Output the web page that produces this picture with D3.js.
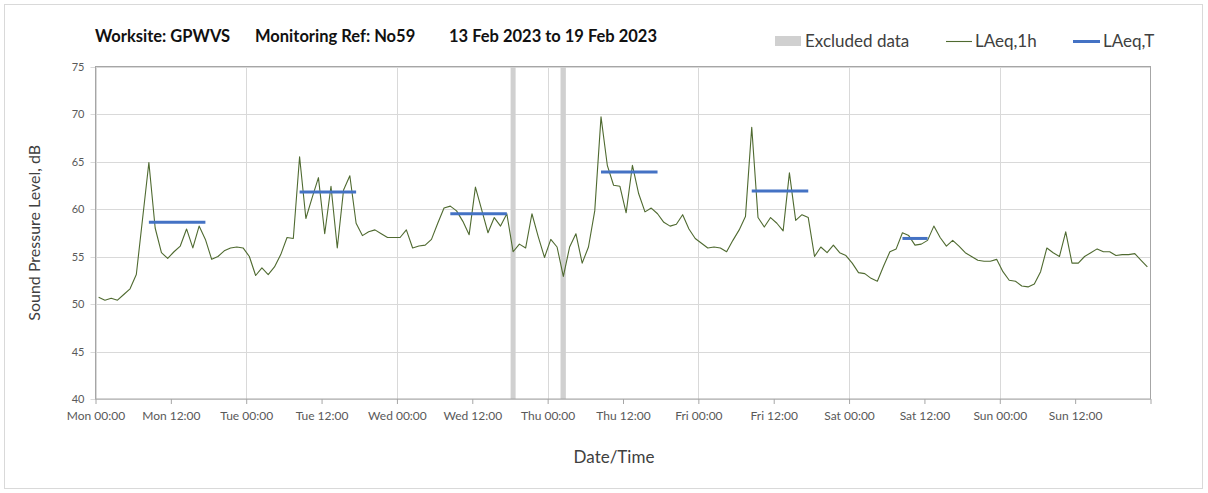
<!DOCTYPE html>
<html>
<head>
<meta charset="utf-8">
<script src="https://cdn.jsdelivr.net/npm/d3@7"></script>
<style>
  body { margin: 0; background: #fff; }
  text { font-family: Lato, "Open Sans", sans-serif; }
</style>
</head>
<body>
<div id="chart"></div>
<script>
// hourly LAeq,1h values, one array per day (point at the middle of each hour)
const monLevels = [50.7, 50.4, 50.6, 50.4, 51.0, 51.6, 53.1, 59.0, 64.9, 58.0, 55.4, 54.8, 55.5, 56.1, 57.9, 55.9, 58.2, 56.8, 54.7, 55.0, 55.6, 55.9, 56.0, 55.9];
const tueLevels = [55.0, 53.0, 53.8, 53.1, 53.9, 55.2, 57.0, 56.9, 65.5, 59.0, 61.2, 63.3, 57.4, 62.4, 55.9, 62.0, 63.5, 58.5, 57.2, 57.6, 57.8, 57.4, 57.0, 57.0];
const wedLevels = [57.0, 57.8, 55.9, 56.1, 56.2, 56.8, 58.5, 60.1, 60.3, 59.8, 58.7, 57.3, 62.3, 59.9, 57.5, 59.1, 58.2, 59.5, 55.5, 56.3, 55.9, 59.5, 57.1, 54.9];
const thuLevels = [56.8, 56.0, 52.9, 56.0, 57.4, 54.3, 56.0, 59.8, 69.7, 64.6, 62.5, 62.4, 59.6, 64.6, 61.6, 59.7, 60.1, 59.5, 58.6, 58.2, 58.4, 59.4, 57.9, 56.9];
const friLevels = [56.4, 55.9, 56.0, 55.9, 55.5, 56.7, 57.8, 59.2, 68.6, 59.1, 58.1, 59.1, 58.5, 57.7, 63.8, 58.8, 59.4, 59.1, 55.0, 56.0, 55.4, 56.2, 55.4, 55.1];
const satLevels = [54.3, 53.3, 53.2, 52.7, 52.4, 54.0, 55.5, 55.8, 57.5, 57.2, 56.2, 56.3, 56.7, 58.2, 57.0, 56.1, 56.7, 56.1, 55.4, 55.0, 54.6, 54.5, 54.5, 54.7];
const sunLevels = [53.4, 52.5, 52.4, 51.9, 51.8, 52.1, 53.4, 55.9, 55.4, 55.0, 57.6, 54.3, 54.3, 55.0, 55.4, 55.8, 55.5, 55.5, 55.1, 55.2, 55.2, 55.3, 54.6, 53.9];

// LAeq,T periods (drawn between the first and last hourly points)
const periodStarts = ["2023-02-13T08:30", "2023-02-14T08:30", "2023-02-15T08:30", "2023-02-16T08:30", "2023-02-17T08:30", "2023-02-18T08:30"];
const periodEnds   = ["2023-02-13T17:30", "2023-02-14T17:30", "2023-02-15T17:30", "2023-02-16T17:30", "2023-02-17T17:30", "2023-02-18T12:30"];
const periodLevels = [58.6, 61.8, 59.5, 63.9, 61.9, 56.9];

// excluded data
const excludedStarts = ["2023-02-15T18:06", "2023-02-16T02:03"];
const excludedEnds   = ["2023-02-15T18:54", "2023-02-16T02:54"];

const yTicks = [40, 45, 50, 55, 60, 65, 70, 75];

const parse = d3.utcParse("%Y-%m-%dT%H:%M");
const start = parse("2023-02-13T00:00");
const end = parse("2023-02-20T00:00");

const allLevels = [].concat(monLevels, tueLevels, wedLevels, thuLevels, friLevels, satLevels, sunLevels);
const hourly = allLevels.map((v, i) => ({ t: new Date(+start + (i + 0.5) * 3600e3), v: v }));

const width = 1208, height = 493;
const plotLeft = 95.5, plotRight = 1150.5, plotTop = 66.5, plotBottom = 399;

const svg = d3.select("#chart").append("svg")
  .attr("width", width)
  .attr("height", height);

// chart border
svg.append("rect")
  .attr("x", 4.5).attr("y", 4.5)
  .attr("width", 1198).attr("height", 484)
  .style("fill", "none")
  .style("stroke", "#d9d9d9");

let x = d3.scaleUtc().domain([start, end]).range([plotLeft, plotRight]);
let y = d3.scaleLinear().domain([40, 75]).range([plotBottom, plotTop]);

// horizontal grid
svg.append("g").selectAll("line").data(yTicks).join("line")
  .attr("x1", plotLeft - 5).attr("x2", plotRight)
  .attr("y1", d => Math.round(y(d)) + 0.5).attr("y2", d => Math.round(y(d)) + 0.5)
  .style("stroke", "#d9d9d9");

// vertical grid at midnight
svg.append("g").selectAll("line").data(d3.utcDay.range(start, end)).join("line")
  .attr("x1", d => Math.round(x(d)) + 0.5).attr("x2", d => Math.round(x(d)) + 0.5)
  .attr("y1", plotTop).attr("y2", plotBottom)
  .style("stroke", "#d9d9d9");

// excluded data bands
svg.append("g").selectAll("rect").data(excludedStarts).join("rect")
  .attr("x", (d, i) => x(parse(d)))
  .attr("width", (d, i) => x(parse(excludedEnds[i])) - x(parse(d)))
  .attr("y", plotTop).attr("height", plotBottom - plotTop)
  .style("fill", "#d0d0d0");

// plot frame
svg.append("rect")
  .attr("x", plotLeft).attr("y", plotTop)
  .attr("width", plotRight - plotLeft).attr("height", plotBottom - plotTop)
  .style("fill", "none")
  .style("stroke", "#a6a6a6");

// x axis
let xTicks = d3.utcHour.every(12).range(start, d3.utcHour.offset(end, 1));
let xAxis = d3.axisBottom(x)
  .tickValues(xTicks)
  .tickSize(5)
  .tickFormat(d => +d === +end ? "" : d3.utcFormat("%a %H:%M")(d));
let gx = svg.append("g").attr("transform", "translate(0," + plotBottom + ")").call(xAxis);
gx.select(".domain").remove();
gx.selectAll("line").style("stroke", "#a6a6a6");
gx.selectAll("text")
  .attr("dy", "1.05em")
  .style("font-size", "12px")
  .style("fill", "#595959");

// y axis
let yAxis = d3.axisLeft(y).tickValues(yTicks).tickSize(0).tickPadding(11);
let gy = svg.append("g").attr("transform", "translate(" + plotLeft + ",0)").call(yAxis);
gy.select(".domain").remove();
gy.selectAll("text")
  .style("font-size", "11px")
  .style("fill", "#595959");

// LAeq,1h line
let line = d3.line().x(d => x(d.t)).y(d => y(d.v));
svg.append("path")
  .datum(hourly)
  .attr("d", line)
  .style("fill", "none")
  .style("stroke", "#4f6a30")
  .style("stroke-width", 1.1)
  .style("stroke-linejoin", "round");

// LAeq,T lines
svg.append("g").selectAll("line").data(periodLevels).join("line")
  .attr("x1", (d, i) => x(parse(periodStarts[i])))
  .attr("x2", (d, i) => x(parse(periodEnds[i])))
  .attr("y1", d => y(d)).attr("y2", d => y(d))
  .style("stroke", "#4472c4")
  .style("stroke-width", 3);

// title
let title = svg.append("g").style("font-weight", "bold").style("font-size", "16.5px").style("fill", "#111");
title.append("text").attr("x", 95).attr("y", 42).text("Worksite: GPWVS");
title.append("text").attr("x", 255).attr("y", 42).text("Monitoring Ref: No59");
title.append("text").attr("x", 449).attr("y", 42).text("13 Feb 2023 to 19 Feb 2023");

// legend
let legend = svg.append("g").style("font-size", "17px").style("fill", "#404040");
legend.append("rect").attr("x", 775).attr("y", 36).attr("width", 26).attr("height", 10).style("fill", "#d0d0d0");
legend.append("text").attr("x", 805).attr("y", 47).text("Excluded data");
legend.append("line").attr("x1", 946).attr("x2", 972).attr("y1", 41.5).attr("y2", 41.5)
  .style("stroke", "#4f6a30").style("stroke-width", 1.1);
legend.append("text").attr("x", 975).attr("y", 47).text("LAeq,1h");
legend.append("line").attr("x1", 1073).attr("x2", 1100).attr("y1", 41.5).attr("y2", 41.5)
  .style("stroke", "#4472c4").style("stroke-width", 3);
legend.append("text").attr("x", 1103).attr("y", 47).text("LAeq,T");

// axis titles
svg.append("text")
  .attr("transform", "translate(40," + (plotTop + plotBottom) / 2 + ") rotate(-90)")
  .style("text-anchor", "middle")
  .style("font-size", "16px")
  .style("fill", "#404040")
  .text("Sound Pressure Level, dB");

svg.append("text")
  .attr("x", 614).attr("y", 463)
  .style("text-anchor", "middle")
  .style("font-size", "17px")
  .style("fill", "#404040")
  .text("Date/Time");
</script>
</body>
</html>
